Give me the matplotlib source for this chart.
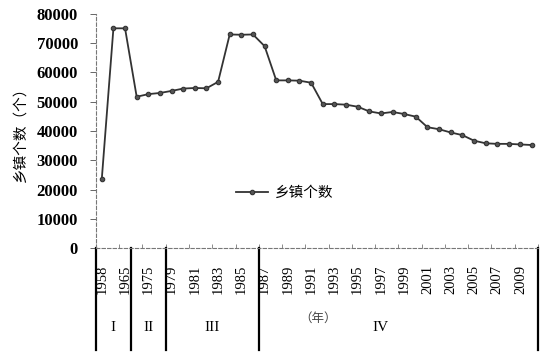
import numpy as np
import matplotlib
matplotlib.use("Agg")
import matplotlib.pyplot as plt
import matplotlib.transforms as mtransforms

plt.rcParams['font.family'] = ['Liberation Serif', 'Noto Sans CJK SC', 'DejaVu Sans']

years = ['1958', '1961', '1965', '1970', '1975', '1977', '1979', '1980', '1981', '1982',
         '1983', '1984', '1985', '1986', '1987', '1988', '1989', '1990', '1991', '1992',
         '1993', '1994', '1995', '1996', '1997', '1998', '1999', '2000', '2001', '2002',
         '2003', '2004', '2005', '2006', '2007', '2008', '2009', '2010']
towns = [23600, 75100, 75100, 51700, 52600, 53000, 53700, 54500, 54700, 54600,
         56800, 73000, 72900, 73000, 69000, 57300, 57300, 57200, 56500, 49200,
         49200, 49000, 48300, 46700, 46000, 46500, 45800, 44900, 41300, 40600,
         39500, 38600, 36700, 35800, 35600, 35600, 35400, 35200]

# period boundaries (category index edges) and labels
period_edges = [-0.5, 2.5, 5.5, 13.5, 37.5]
period_names = ['I', 'II', 'III', 'IV']

fig = plt.figure(figsize=(5.5, 3.54), dpi=100)
ax = fig.add_axes([0.1745, 0.2994, 0.8035, 0.6611])

x = np.arange(len(years))
ax.plot(x, towns, color='#333333', lw=1.3, marker='o', ms=3.2,
        mfc='#555555', mec='#333333', mew=0.8, label='乡镇个数')

ax.set_xlim(-0.5, len(years) - 0.5)
ax.set_ylim(0, 80000)
ax.set_yticks(np.arange(0, 80001, 10000))
ax.tick_params(axis='y', labelsize=12, length=4, width=0.7, color='#666666', pad=9)
for t in ax.get_yticklabels():
    t.set_fontweight('bold')

ax.set_xticks(x[::2])
ax.set_xticklabels(years[::2], rotation=90, fontsize=10.5, va='top')
ax.tick_params(axis='x', length=0, pad=12)
ax.set_xticks(np.arange(-0.5, len(years), 2), minor=True)
ax.tick_params(axis='x', which='minor', length=3, width=0.6, color='#777777', direction='in')

for side in ['top', 'right']:
    ax.spines[side].set_visible(False)
for side in ['left', 'bottom']:
    ax.spines[side].set_linestyle((0, (3, 2)))
    ax.spines[side].set_color('#777777')
    ax.spines[side].set_linewidth(0.8)

ax.set_ylabel('乡镇个数（个）', family=['Noto Sans CJK SC'], fontsize=10.5)
ax.yaxis.set_label_coords(-0.155, 0.5)

trans = mtransforms.blended_transform_factory(ax.transData, ax.transAxes)
for e in period_edges:
    ax.plot([e, e], [0, -0.436], transform=trans, color='black', lw=1.6, clip_on=False)
for i, name in enumerate(period_names):
    mid = (period_edges[i] + period_edges[i + 1]) / 2
    if name == 'IV':
        mid = 24.0
    ax.text(mid, -0.34, name, transform=trans, ha='center', va='center', fontsize=11)
ax.text(18.6, -0.30, '（年）', transform=trans, ha='center', va='center',
        family=['Noto Sans CJK SC'], fontsize=9, color='#444444')

ax.legend(loc='center left', bbox_to_anchor=(0.316, 0.235), frameon=False,
          prop={'family': 'Noto Sans CJK SC', 'size': 10.5}, handlelength=2.2,
          handletextpad=0.5, borderaxespad=0, borderpad=0)

fig.savefig('out.png', dpi=100)
